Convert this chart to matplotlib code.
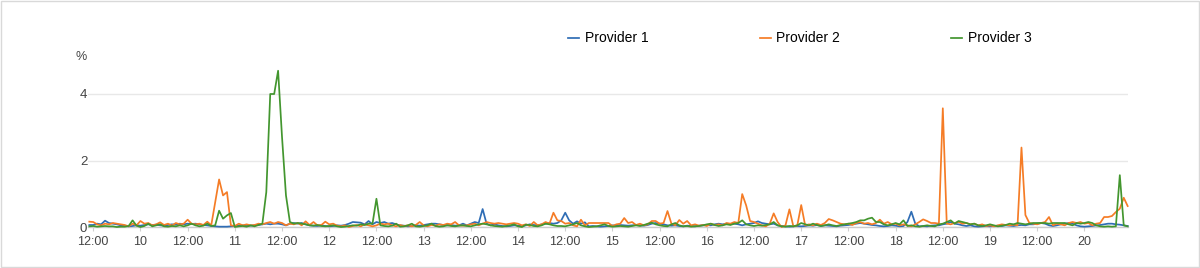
import matplotlib
matplotlib.use("Agg")
import matplotlib.pyplot as plt
import matplotlib.dates as mdates
import matplotlib.patches as patches
import pandas as pd

plt.rcParams["font.family"] = ["Liberation Sans", "DejaVu Sans"]

# hourly samples, first one is day 9 11:00, last one day 20 11:00
start = "2023-01-09 11:00"

# Provider 1 (blue)
p1 = [0.06, 0.06, 0.10, 0.08, 0.19, 0.12, 0.10, 0.08, 0.05, 0.04, 0.02, 0.03, 0.05, 0.04, 0.06, 0.08, 0.06, 0.07, 0.05, 0.04, 0.06, 0.08, 0.07, 0.10,
      0.08, 0.10, 0.09, 0.10, 0.08, 0.06, 0.05, 0.03, 0.02, 0.01, 0.01, 0.01, 0.02, 0.03, 0.04, 0.05, 0.03, 0.04, 0.05, 0.06, 0.08, 0.10, 0.08, 0.10,
      0.10, 0.08, 0.05, 0.10, 0.12, 0.10, 0.12, 0.08, 0.05, 0.04, 0.03, 0.05, 0.03, 0.02, 0.03, 0.05, 0.04, 0.06, 0.10, 0.15, 0.14, 0.13, 0.08, 0.18,
      0.08, 0.15, 0.12, 0.15, 0.10, 0.12, 0.08, 0.05, 0.04, 0.02, 0.03, 0.05, 0.04, 0.06, 0.08, 0.10, 0.10, 0.08, 0.06, 0.05, 0.06, 0.04, 0.05, 0.10,
      0.05, 0.10, 0.15, 0.12, 0.54, 0.10, 0.05, 0.08, 0.05, 0.03, 0.02, 0.03, 0.05, 0.04, 0.03, 0.05, 0.08, 0.06, 0.05, 0.08, 0.10, 0.12, 0.10, 0.12,
      0.20, 0.43, 0.20, 0.10, 0.17, 0.10, 0.14, 0.02, 0.03, 0.02, 0.01, 0.02, 0.03, 0.05, 0.04, 0.06, 0.05, 0.04, 0.05, 0.06, 0.05, 0.04, 0.06, 0.10,
      0.12, 0.10, 0.08, 0.05, 0.04, 0.05, 0.03, 0.02, 0.04, 0.03, 0.02, 0.04, 0.05, 0.06, 0.05, 0.08, 0.10, 0.08, 0.10, 0.09, 0.10, 0.08, 0.05, 0.08,
      0.10, 0.12, 0.17, 0.12, 0.10, 0.08, 0.10, 0.05, 0.03, 0.02, 0.01, 0.02, 0.03, 0.02, 0.03, 0.05, 0.04, 0.06, 0.03, 0.05, 0.04, 0.03, 0.02, 0.04,
      0.05, 0.06, 0.08, 0.10, 0.12, 0.10, 0.08, 0.06, 0.05, 0.03, 0.02, 0.03, 0.05, 0.04, 0.02, 0.03, 0.15, 0.46, 0.10, 0.02, 0.03, 0.02, 0.04, 0.05,
      0.05, 0.08, 0.10, 0.15, 0.10, 0.08, 0.05, 0.03, 0.05, 0.02, 0.01, 0.02, 0.03, 0.02, 0.03, 0.04, 0.03, 0.05, 0.04, 0.03, 0.05, 0.06, 0.05, 0.08,
      0.08, 0.10, 0.12, 0.10, 0.05, 0.03, 0.05, 0.08, 0.10, 0.12, 0.10, 0.05, 0.02, 0.01, 0.02, 0.03, 0.05, 0.06, 0.08, 0.10, 0.10, 0.08, 0.07, 0.05,
      0.03]

# Provider 2 (orange)
p2 = [0.16, 0.15, 0.08, 0.05, 0.10, 0.08, 0.12, 0.10, 0.08, 0.06, 0.02, 0.10, 0.05, 0.18, 0.10, 0.12, 0.05, 0.08, 0.14, 0.06, 0.10, 0.04, 0.12, 0.08,
      0.10, 0.22, 0.10, 0.08, 0.10, 0.06, 0.16, 0.05, 0.75, 1.43, 0.95, 1.05, 0.05, 0.03, 0.10, 0.05, 0.08, 0.05, 0.06, 0.10, 0.08, 0.12, 0.15, 0.10,
      0.15, 0.12, 0.05, 0.10, 0.08, 0.12, 0.05, 0.17, 0.06, 0.15, 0.05, 0.06, 0.16, 0.08, 0.10, 0.04, 0.02, 0.05, 0.00, 0.03, 0.06, 0.02, 0.08, 0.05,
      0.02, 0.05, 0.10, 0.08, 0.10, 0.05, 0.02, 0.06, 0.03, 0.05, 0.02, 0.06, 0.15, 0.05, 0.02, 0.06, 0.04, 0.08, 0.06, 0.10, 0.08, 0.15, 0.05, 0.04,
      0.05, 0.08, 0.10, 0.05, 0.10, 0.15, 0.12, 0.10, 0.12, 0.10, 0.08, 0.10, 0.12, 0.10, 0.05, 0.08, 0.03, 0.15, 0.05, 0.08, 0.15, 0.10, 0.43, 0.20,
      0.18, 0.10, 0.12, 0.05, 0.02, 0.22, 0.05, 0.12, 0.12, 0.12, 0.12, 0.12, 0.12, 0.03, 0.08, 0.10, 0.27, 0.12, 0.15, 0.06, 0.10, 0.05, 0.08, 0.18,
      0.18, 0.10, 0.12, 0.48, 0.10, 0.05, 0.21, 0.10, 0.18, 0.05, 0.08, 0.04, 0.06, 0.03, 0.10, 0.06, 0.08, 0.05, 0.12, 0.10, 0.15, 0.12, 0.99, 0.65,
      0.18, 0.15, 0.10, 0.05, 0.02, 0.10, 0.41, 0.15, 0.00, 0.05, 0.53, 0.02, 0.05, 0.66, 0.05, 0.08, 0.05, 0.10, 0.06, 0.12, 0.24, 0.20, 0.15, 0.10,
      0.08, 0.10, 0.06, 0.12, 0.15, 0.10, 0.12, 0.08, 0.12, 0.22, 0.10, 0.15, 0.08, 0.10, 0.05, 0.08, 0.05, 0.02, 0.08, 0.15, 0.23, 0.18, 0.12, 0.12,
      0.10, 3.57, 0.10, 0.08, 0.12, 0.15, 0.10, 0.12, 0.08, 0.10, 0.05, 0.08, 0.03, 0.05, 0.02, 0.05, 0.08, 0.06, 0.05, 0.07, 0.05, 2.39, 0.36, 0.12,
      0.10, 0.08, 0.12, 0.15, 0.30, 0.05, 0.10, 0.08, 0.05, 0.12, 0.15, 0.12, 0.15, 0.10, 0.12, 0.05, 0.10, 0.12, 0.30, 0.30, 0.33, 0.45, 0.55, 0.88,
      0.63]

# Provider 3 (green)
p3 = [0.02, 0.03, 0.01, 0.02, 0.03, 0.02, 0.02, 0.00, 0.01, 0.01, 0.03, 0.20, 0.04, 0.00, 0.03, 0.10, 0.02, 0.05, 0.08, 0.02, 0.01, 0.03, 0.02, 0.05,
      0.02, 0.05, 0.10, 0.05, 0.02, 0.04, 0.10, 0.03, 0.05, 0.49, 0.25, 0.35, 0.42, 0.00, 0.02, 0.03, 0.01, 0.05, 0.02, 0.06, 0.10, 1.05, 4.00, 4.00,
      4.70, 2.70, 0.95, 0.15, 0.10, 0.12, 0.10, 0.08, 0.05, 0.04, 0.06, 0.03, 0.02, 0.03, 0.05, 0.02, 0.00, 0.01, 0.03, 0.05, 0.04, 0.08, 0.06, 0.10,
      0.10, 0.85, 0.05, 0.03, 0.02, 0.04, 0.10, 0.01, 0.02, 0.05, 0.10, 0.02, 0.01, 0.03, 0.05, 0.10, 0.03, 0.01, 0.02, 0.05, 0.03, 0.02, 0.04, 0.05,
      0.03, 0.02, 0.05, 0.08, 0.10, 0.08, 0.05, 0.03, 0.02, 0.01, 0.03, 0.05, 0.08, 0.02, 0.00, 0.07, 0.06, 0.03, 0.02, 0.05, 0.10, 0.08, 0.05, 0.03,
      0.03, 0.02, 0.05, 0.08, 0.12, 0.05, 0.02, 0.00, 0.01, 0.02, 0.05, 0.08, 0.03, 0.01, 0.02, 0.03, 0.02, 0.01, 0.03, 0.05, 0.03, 0.06, 0.10, 0.13,
      0.08, 0.05, 0.03, 0.02, 0.08, 0.12, 0.05, 0.02, 0.03, 0.01, 0.02, 0.03, 0.05, 0.08, 0.10, 0.06, 0.03, 0.05, 0.08, 0.06, 0.10, 0.12, 0.20, 0.08,
      0.05, 0.03, 0.05, 0.04, 0.06, 0.08, 0.15, 0.05, 0.02, 0.01, 0.03, 0.02, 0.05, 0.12, 0.08, 0.05, 0.10, 0.06, 0.03, 0.05, 0.08, 0.05, 0.03, 0.06,
      0.08, 0.10, 0.12, 0.15, 0.20, 0.20, 0.25, 0.28, 0.15, 0.15, 0.08, 0.05, 0.08, 0.12, 0.08, 0.20, 0.03, 0.05, 0.02, 0.01, 0.03, 0.05, 0.03, 0.02,
      0.08, 0.10, 0.15, 0.20, 0.10, 0.18, 0.15, 0.12, 0.08, 0.10, 0.05, 0.03, 0.05, 0.08, 0.05, 0.02, 0.04, 0.06, 0.10, 0.08, 0.12, 0.10, 0.08, 0.10,
      0.12, 0.12, 0.12, 0.12, 0.10, 0.12, 0.12, 0.12, 0.12, 0.08, 0.05, 0.12, 0.10, 0.12, 0.15, 0.12, 0.05, 0.02, 0.01, 0.02, 0.01, 0.02, 1.56, 0.05,
      0.02]

names = ["Provider 1", "Provider 2", "Provider 3"]
colours = ["#2f6db5", "#f57c26", "#43962f"]

times = pd.date_range(start, periods=len(p1), freq="h")

fig = plt.figure(figsize=(12.0, 2.68), dpi=100)
ax = fig.add_axes([88/1200, 41/268, 1040/1200, 166.25/268])

for vals, name, c in zip([p1, p2, p3], names, colours):
    ax.plot(times, vals, color=c, lw=1.25, label=name, clip_on=False, zorder=3)

ax.set_xlim(times[0] - pd.Timedelta(minutes=20), times[-1] + pd.Timedelta(minutes=5))
ax.set_ylim(0, 5)
ax.set_yticks([0, 2, 4])
ax.grid(axis="y", color="#e8e8e8", lw=1.0)
ax.set_axisbelow(True)
for s in ["top", "right", "left"]:
    ax.spines[s].set_visible(False)
ax.spines["bottom"].set_color("#cccccc")
ax.spines["bottom"].set_linewidth(1.0)

ax.xaxis.set_major_locator(mdates.HourLocator(byhour=[0, 12]))
ax.xaxis.set_major_formatter(plt.FuncFormatter(
    lambda v, pos: "12:00" if mdates.num2date(v).hour == 12 else str(mdates.num2date(v).day)))
ax.tick_params(axis="x", length=3, color="#d0d0d0", pad=3.5, labelsize=9, labelcolor="#444444")
ax.tick_params(axis="y", length=0, pad=0.5, labelsize=9.5, labelcolor="#444444")

fig.text(76/1200, 1 - 57/268, "%", fontsize=9, color="#444444", va="center", ha="left")

fig.legend(loc="center", bbox_to_anchor=(800/1200, 1 - 38.5/268), ncol=3, frameon=False,
           fontsize=10, handlelength=0.8, handletextpad=0.4, columnspacing=8.0)

fig.patches.append(patches.Rectangle((0.0005, 0.002), 0.999, 0.996, transform=fig.transFigure,
                                     fill=False, edgecolor="#d9d9d9", lw=1.0))

fig.savefig("out.png", dpi=100)
